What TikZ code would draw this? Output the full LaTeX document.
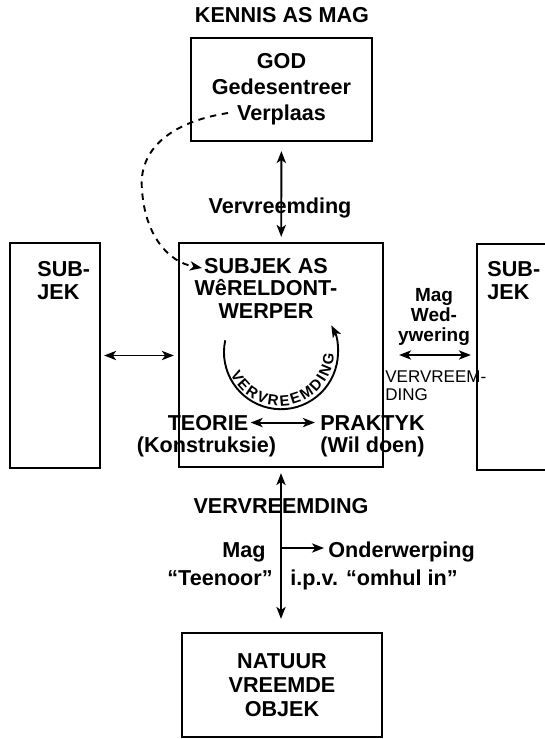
\documentclass[tikz,border=0pt]{standalone}
\usepackage{fontspec}
\setmainfont{Liberation Sans}
\usetikzlibrary{arrows.meta, decorations.text}

\begin{document}
\begin{tikzpicture}[x=0.5pt, y=-0.5pt, >={Stealth[length=6pt, width=4.6pt, inset=1.6pt]},
  box/.style={draw, line width=1.1pt, inner sep=0pt},
  txt/.style={inner sep=0pt, font=\bfseries\fontsize{10.8}{11.2}\selectfont},
  lines/.style={inner sep=0pt, align=center, font=\bfseries\fontsize{10.8}{#1}\selectfont},
  link/.style={line width=0.95pt}]
\useasboundingbox (0,0) rectangle (545,739);

\node[txt, anchor=base] (title) at (282,23) {KENNIS AS MAG};
\node[box, lines=13pt, minimum width=90.5pt, minimum height=51.5pt] (god) at (281.5,89.5) {GOD\\Gedesentreer\\Verplaas};
\node[box, minimum width=102pt, minimum height=112pt] (cbox) at (281,355) {};
\node[box, minimum width=45pt, minimum height=112.5pt] (lbox) at (55,355.5) {};
\node[box, minimum width=45pt, minimum height=113pt] (rbox) at (522,357) {};
\node[box, lines=12pt, minimum width=100pt, minimum height=52pt] (nat) at (282,685) {NATUUR\\VREEMDE\\OBJEK};

\node[lines=11.25pt] (world) at (266,288) {SUBJEK AS\\WêRELDONT-\\WERPER};
\node[lines=11.5pt, align=left, anchor=west] (lsub) at (37,281) {SUB-\\JEK};
\node[lines=11.5pt, align=left, anchor=west] (rsub) at (487,281) {SUB-\\JEK};
\node[txt, anchor=base] (vvtop) at (280,213) {Vervreemding};
\node[inner sep=0pt, align=center, font=\bfseries\fontsize{9.5}{10}\selectfont] (wedyw) at (434,317) {Mag\\Wed-\\ywering};
\node[inner sep=0pt, align=left, anchor=west, font=\fontsize{8.5}{9}\selectfont] (vvright) at (385,386) {VERVREEM-\\DING};
\node[txt, anchor=base] (teorie) at (208,430) {TEORIE};
\node[txt, anchor=base] (konstr) at (206.5,452) {(Konstruksie)};
\node[txt, anchor=base] (praktyk) at (372.5,430) {PRAKTYK};
\node[txt, anchor=base] (wil) at (372.5,452) {(Wil doen)};
\node[txt, anchor=base] (vvlow) at (281,513) {VERVREEMDING};
\node[txt, anchor=base east] (mag) at (266,557) {Mag};
\node[txt, anchor=base west] (onder) at (328,557) {Onderwerping};
\node[txt, anchor=base east] (teenoor) at (273,585) {“Teenoor”};
\node[txt, anchor=base west] (ipv) at (290,585) {i.p.v. “omhul in”};

\coordinate (loop) at (280,352);
\coordinate (dashstart) at (228,113);
\coordinate (dashend) at (202,268);
\coordinate (magfoot) at (281,548);

\draw[link, <->, shorten <=4.5pt, shorten >=2.5pt] (god) -- (cbox);
\draw[link, <->, shorten <=2.5pt, shorten >=6.5pt] (cbox.south) -- (cbox.south |- nat.north);
\draw[link, <->, shorten <=1.5pt, shorten >=2pt] (lbox.east) -- (lbox.east -| cbox.west);
\draw[link, <->, shorten <=7.5pt, shorten >=2.5pt] (cbox.east) -- (cbox.east -| rbox.west);
\draw[link, <->, shorten <=1pt, shorten >=2.5pt] (teorie.east) -- (teorie.east -| praktyk.west);
\draw[link, ->, shorten >=2pt] (magfoot) -- (magfoot -| onder.west);
\draw[link, ->, dash pattern=on 3.2pt off 2.8pt] (dashstart) .. controls (170,122) and (138,150) .. (142,190) .. controls (145,235) and (168,262) .. (dashend);
\draw[link, ->] ([shift={(loop)}]-168:56) arc[start angle=-168, end angle=-388, radius=57];
\path[decorate, decoration={text along path, text align=fit to path,
  text={|\bfseries\fontsize{7.5}{8}\selectfont|VERVREEMDING}}]
  ([shift={(loop)}]-204:54) arc[start angle=-204, end angle=-358, radius=54];
\end{tikzpicture}
\end{document}
